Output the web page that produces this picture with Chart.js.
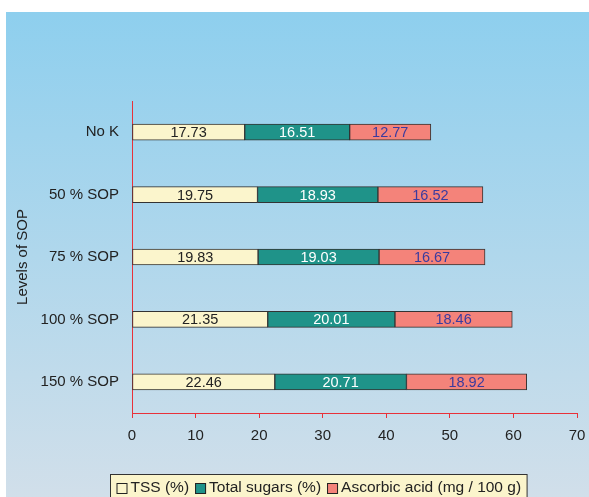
<!DOCTYPE html>
<html lang="en">
<head>
    <meta charset="UTF-8">
    <title>Levels of SOP</title>
    <script src="https://cdn.jsdelivr.net/npm/chart.js"></script>
    <style>
        html, body { margin: 0; padding: 0; background: #ffffff; }
        #wrap { width: 589px; height: 497px; position: relative; }
    </style>
</head>
<body>
    <div id="wrap"><canvas id="sopChart"></canvas></div>

    <script>
        // data
        const levels = ["No K", "50 % SOP", "75 % SOP", "100 % SOP", "150 % SOP"];
        const tss = [17.73, 19.75, 19.83, 21.35, 22.46];
        const totalSugars = [16.51, 18.93, 19.03, 20.01, 20.71];
        const ascorbicAcid = [12.77, 16.52, 16.67, 18.46, 18.92];
        const xTicks = [0, 10, 20, 30, 40, 50, 60, 70];

        const FONT = "'Liberation Sans', Arial, sans-serif";
        const labelColors = ["#222222", "#ffffff", "#3b3b9e"];

        // blue panel behind everything
        const panelBg = {
            id: "panelBg",
            beforeDraw(chart) {
                const c = chart.ctx;
                const g = c.createLinearGradient(0, 12, 0, 497);
                g.addColorStop(0, "#8ecfee");
                g.addColorStop(1, "#d1dfea");
                c.save();
                c.fillStyle = g;
                c.fillRect(6, 12, chart.width - 6, chart.height - 12);
                c.restore();
            }
        };

        // values written inside each bar segment
        const segLabels = {
            id: "segLabels",
            afterDatasetsDraw(chart) {
                const c = chart.ctx;
                c.save();
                c.font = "14.5px " + FONT;
                c.textAlign = "center";
                c.textBaseline = "middle";
                chart.data.datasets.forEach((ds, i) => {
                    const meta = chart.getDatasetMeta(i);
                    c.fillStyle = labelColors[i];
                    meta.data.forEach((bar, j) => {
                        const x = (bar.x + bar.base) / 2;
                        c.fillText(ds.data[j].toFixed(2), x, bar.y + 1);
                    });
                });
                c.restore();
            }
        };

        // boxed legend at the bottom
        const boxLegend = {
            id: "boxLegend",
            afterDraw(chart) {
                const c = chart.ctx;
                const sets = chart.data.datasets;
                c.save();
                c.font = "15.5px " + FONT;
                c.textBaseline = "middle";
                const sq = 11, gapAfterSq = 3, gapItems = 6;
                let total = 0;
                sets.forEach(ds => { total += sq + gapAfterSq + c.measureText(ds.label).width; });
                total += gapItems * (sets.length - 1);
                const boxW = total + 12;
                const bx = Math.round(318.5 - boxW / 2) + 0.5;
                const by = 474.5;
                c.fillStyle = "#fbf5cc";
                c.fillRect(bx, by, boxW, 30);
                c.strokeStyle = "#333333";
                c.lineWidth = 1;
                c.strokeRect(bx, by, boxW, 30);
                let x = bx + 6;
                const cy = 488;
                sets.forEach(ds => {
                    c.fillStyle = ds.backgroundColor;
                    c.fillRect(x, cy - 5, sq, sq);
                    c.strokeStyle = "#222222";
                    c.strokeRect(x + 0.5, cy - 4.5, sq - 1, sq - 1);
                    x += sq + gapAfterSq;
                    c.fillStyle = "#222222";
                    c.fillText(ds.label, x, cy);
                    x += c.measureText(ds.label).width + gapItems;
                });
                c.restore();
            }
        };

        const ctx = document.getElementById("sopChart").getContext("2d");
        new Chart(ctx, {
            type: "bar",
            data: {
                labels: levels,
                datasets: [
                    { label: "TSS (%)", data: tss, backgroundColor: "#fbf5cc" },
                    { label: "Total sugars (%)", data: totalSugars, backgroundColor: "#1f9389" },
                    { label: "Ascorbic acid (mg / 100 g)", data: ascorbicAcid, backgroundColor: "#f4837a" }
                ].map(d => Object.assign(d, {
                    borderColor: "#333333",
                    borderWidth: 1,
                    borderSkipped: false,
                    barThickness: 16
                }))
            },
            options: {
                indexAxis: "y",
                responsive: true,
                maintainAspectRatio: false,
                animation: false,
                layout: { padding: { left: 0, top: 101, right: 12, bottom: 0 } },
                plugins: {
                    legend: { display: false },
                    tooltip: { enabled: false }
                },
                scales: {
                    x: {
                        stacked: true,
                        min: 0,
                        max: 70,
                        afterBuildTicks: s => { s.ticks = xTicks.map(v => ({ value: v })); },
                        afterFit: s => {
                            s.height = 84;
                            s.paddingLeft = 0;
                            s.paddingRight = 0;
                        },
                        grid: {
                            drawOnChartArea: false,
                            drawTicks: true,
                            tickLength: 5,
                            color: "#e8313a"
                        },
                        border: { color: "#e8313a", width: 1 },
                        ticks: {
                            padding: 9,
                            color: "#222222",
                            font: { family: FONT, size: 15 }
                        }
                    },
                    y: {
                        stacked: true,
                        afterFit: s => { s.width = 132; },
                        grid: { display: false, drawTicks: false },
                        border: { color: "#e8313a", width: 1 },
                        ticks: {
                            padding: 13,
                            color: "#222222",
                            font: { family: FONT, size: 15 }
                        },
                        title: {
                            display: true,
                            text: "Levels of SOP",
                            color: "#222222",
                            padding: { top: 14, bottom: 0 },
                            font: { family: FONT, size: 15 }
                        }
                    }
                }
            },
            plugins: [panelBg, segLabels, boxLegend]
        });
    </script>
</body>
</html>
